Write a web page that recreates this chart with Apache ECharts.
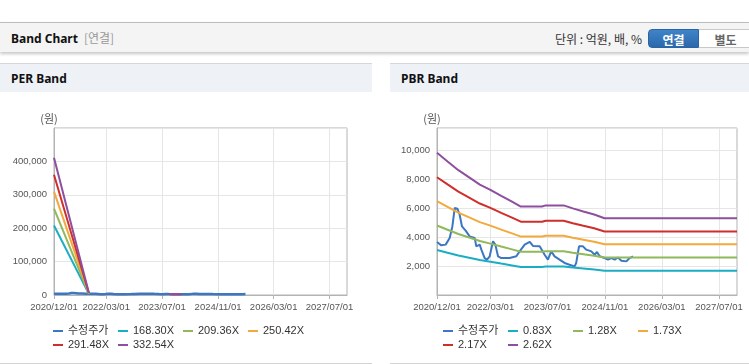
<!DOCTYPE html>
<html>
<head>
<meta charset="utf-8">
<script src="https://cdn.jsdelivr.net/npm/echarts@6/dist/echarts.min.js"></script>
<style>
  html, body { margin:0; padding:0; background:#fff; }
  body { width:749px; height:364px; position:relative; overflow:hidden; font-family:"Liberation Sans","Noto Sans CJK KR",sans-serif; }
  #top { position:absolute; left:0; top:22px; width:749px; height:29px; border-top:1px solid #bdbdbd; background:#f4f4f4; box-shadow:0 2px 3px rgba(0,0,0,0.22); }
  #top .title { position:absolute; left:11px; top:0; line-height:30px; font-family:"Noto Sans","Noto Sans CJK KR",sans-serif; font-weight:bold; font-size:12px; color:#111; }
  #top .sub { font-weight:normal; color:#999; font-family:"Noto Sans CJK KR",sans-serif; font-size:12px; margin-left:6px; }
  #top .unit { position:absolute; right:107px; top:0; line-height:32px; font-size:12px; color:#333; font-family:"Noto Sans CJK KR",sans-serif; }
  .btn { position:absolute; top:6px; height:19px; line-height:19px; font-size:12px; font-weight:bold; text-align:center; font-family:"Noto Sans CJK KR",sans-serif; box-sizing:border-box; }
  #b1 { left:648px; width:51px; background:linear-gradient(#3f84c8,#2b68ab); color:#fff; border-radius:4px 0 0 4px; border:1px solid #2a64a4; }
  #b2 { left:699px; width:54px; background:#fff; color:#666; border:1px solid #c8c8c8; border-left:none; }
  .panel { position:absolute; top:63px; height:299px; border-top:1px solid #d6d6d6; border-bottom:1px solid #d3d3d3; background:#fff; }
  .panel .hd { height:28px; background:#eef2f7; line-height:30px; padding-left:11px; font-family:"Noto Sans",sans-serif; font-weight:bold; font-size:12px; color:#111; }
  #p1 { left:0; width:372px; }
  #p2 { left:390px; width:359px; }
  .chart { position:absolute; top:93px; height:269px; }
  #c1 { left:0; width:372px; }
  #c2 { left:390px; width:359px; }
</style>
</head>
<body>
<div id="top">
  <div class="title">Band Chart<span class="sub">[연결]</span></div>
  <div class="unit">단위 : 억원, 배, %</div>
  <div class="btn" id="b1">연결</div>
  <div class="btn" id="b2">별도</div>
</div>
<div class="panel" id="p1"><div class="hd">PER Band</div></div>
<div class="panel" id="p2"><div class="hd">PBR Band</div></div>
<div class="chart" id="c1"></div>
<div class="chart" id="c2"></div>
<script>
// ---- axis ----
var axisStart = '2020-12-01';
var axisEnd = '2027-12-01';
var tickDates = ['2020-12-01','2022-03-01','2023-07-01','2024-11-01','2026-03-01','2027-07-01'];

// ---- adjusted price (수정주가) ----
var priceDates = ['2020-12-01','2021-01-07','2021-02-13','2021-03-19','2021-04-11','2021-05-01','2021-05-24','2021-06-12','2021-07-02','2021-08-02','2021-09-05','2021-10-18','2021-11-01','2021-11-30','2021-12-14','2022-01-11','2022-01-31','2022-02-23','2022-03-23','2022-04-12','2022-05-05','2022-06-02','2022-08-12','2022-10-08','2022-11-05','2022-12-18','2023-01-30','2023-02-27','2023-04-25','2023-06-06','2023-07-04','2023-08-01','2023-08-30','2023-10-11','2023-11-23','2024-01-04','2024-02-16','2024-03-01','2024-03-25','2024-04-05','2024-04-28','2024-05-26','2024-07-08','2024-08-05','2024-08-25','2024-09-17','2024-10-29','2024-11-27','2024-12-25','2025-01-23','2025-02-20','2025-03-21','2025-05-02','2025-05-30','2025-06-28'];
var priceValues = [3670,3440,3490,3950,4750,6030,5980,5560,4750,4460,4060,3950,3370,3490,3140,2560,2450,2680,3720,3490,2680,2560,2560,2680,3020,3490,3680,3400,3370,2790,2450,3020,2680,2450,2220,2100,1980,2220,3370,3490,3370,3140,3020,2790,2980,2680,2560,2450,2560,2450,2600,2380,2330,2560,2680];

// ---- PER band ----
var perNames = ['168.30X','209.36X','250.42X','291.48X','332.54X'];
var perDates = ['2020-12-01','2021-10-01','2022-06-01','2023-09-07','2023-12-17'];
var per168 = [207900, 3400, null, null, null];
var per209 = [258600, 4200, null, null, null];
var per250 = [309300, 5000, null, null, null];
var per291 = [360000, 5900, null, 2300, 2300];
var per332 = [410700, 6700, null, 2700, 2700];

// ---- PBR band ----
var pbrNames = ['0.83X','1.28X','1.73X','2.17X','2.62X'];
var pbrDates = ['2020-12-01','2021-03-01','2021-06-01','2021-09-01','2021-12-01','2022-03-01','2022-06-01','2022-09-01','2022-11-15','2023-05-15','2023-06-15','2023-11-15','2024-02-01','2024-05-01','2024-08-01','2024-10-28','2027-12-01'];
var pbr083 = [3121,2930,2739,2581,2424,2307,2175,2050,1942,1942,1967,1967,1901,1834,1768,1685,1685];
var pbr128 = [4813,4518,4224,3981,3738,3558,3354,3162,2995,2995,3034,3034,2931,2829,2726,2598,2598];
var pbr173 = [6505,6107,5709,5380,5052,4809,4533,4273,4048,4048,4100,4100,3962,3823,3685,3512,3512];
var pbr217 = [8159,7660,7161,6749,6336,6033,5685,5360,5078,5078,5143,5143,4969,4796,4622,4405,4405];
var pbr262 = [9851,9249,8646,8148,7650,7284,6864,6471,6131,6131,6209,6209,6000,5790,5581,5319,5319];

var colors = ['#3c77c2','#1badc4','#8fb95a','#f3a93b','#cf2f2c','#8d4f9e'];

function ts(s){ var p = s.split('-'); return new Date(+p[0], +p[1]-1, +p[2]).getTime(); }
function pairs(dates, vals){ return dates.map(function(d,i){ return [ts(d), vals[i]]; }); }
function fmtDate(v){ var d = new Date(v); var m = d.getMonth()+1, dd = d.getDate(); return d.getFullYear()+'/'+(m<10?'0':'')+m+'/'+(dd<10?'0':'')+dd; }
function fmtNum(v){ return String(v).replace(/\B(?=(\d{3})+(?!\d))/g, ','); }

var tickTs = tickDates.map(ts);
var labelFont = 'Liberation Sans';

function buildOption(gridLeft, gridWidth, yMax, yInt, showMin, priceWidth, bandNames, bandDates, bands){
  var series = [{
    name: '수정주가', type: 'line', data: pairs(priceDates, priceValues),
    showSymbol: false, symbol: 'none', lineStyle: { width: priceWidth, color: colors[0] }, itemStyle: { color: colors[0] }, z: 2
  }];
  bands.forEach(function(b, i){
    series.push({
      name: bandNames[i], type: 'line', data: pairs(bandDates, b), connectNulls: false,
      showSymbol: false, symbol: 'none', lineStyle: { width: 2, color: colors[i+1] }, itemStyle: { color: colors[i+1] }, z: 3
    });
  });
  return {
    animation: false,
    color: colors,
    grid: { left: gridLeft, top: 35, width: gridWidth, height: 167, show: true, borderColor: '#b3b3b3', borderWidth: 1, backgroundColor: 'transparent' },
    legend: {
      left: 53, top: 231, width: 270, padding: 0, itemGap: 0, itemWidth: 10, itemHeight: 2, icon: 'rect',
      textStyle: { fontFamily: 'Liberation Sans, Noto Sans CJK KR', fontSize: 11, color: '#333', width: 50, lineHeight: 14 },
      data: ['수정주가'].concat(bandNames)
    },
    xAxis: {
      type: 'value', min: ts(axisStart), max: ts(axisEnd),
      axisLine: { lineStyle: { color: '#b3b3b3' } },
      axisTick: { show: true, customValues: tickTs, length: 4, lineStyle: { color: '#b3b3b3' } },
      axisLabel: { customValues: tickTs, formatter: fmtDate, fontFamily: labelFont, fontSize: 9.5, color: '#555', margin: 7, hideOverlap: false },
      splitLine: { show: true, lineStyle: { color: '#e6e6e6' } }
    },
    yAxis: {
      type: 'value', min: 0, max: yMax, interval: yInt,
      name: '(원)', nameLocation: 'end', nameGap: 4,
      nameTextStyle: { fontFamily: 'Noto Sans CJK KR', fontSize: 11, color: '#555', align: 'center', padding: [0, 10, 0, 0] },
      axisLine: { show: true, lineStyle: { color: '#b3b3b3' } },
      axisTick: { show: false },
      axisLabel: { fontFamily: labelFont, fontSize: 9.5, color: '#555', margin: 7, showMaxLabel: false, showMinLabel: showMin, formatter: function(v){ return fmtNum(v); } },
      splitLine: { show: true, lineStyle: { color: '#e6e6e6' } }
    },
    series: series
  };
}

var c1 = echarts.init(document.getElementById('c1'), null, { renderer: 'canvas' });
c1.setOption(buildOption(54, 293, 500000, 100000, true, 2.5, perNames, perDates, [per168, per209, per250, per291, per332]));
var c2 = echarts.init(document.getElementById('c2'), null, { renderer: 'canvas' });
c2.setOption(buildOption(47, 300, 11570, 2000, false, 2, pbrNames, pbrDates, [pbr083, pbr128, pbr173, pbr217, pbr262]));
</script>
</body>
</html>
